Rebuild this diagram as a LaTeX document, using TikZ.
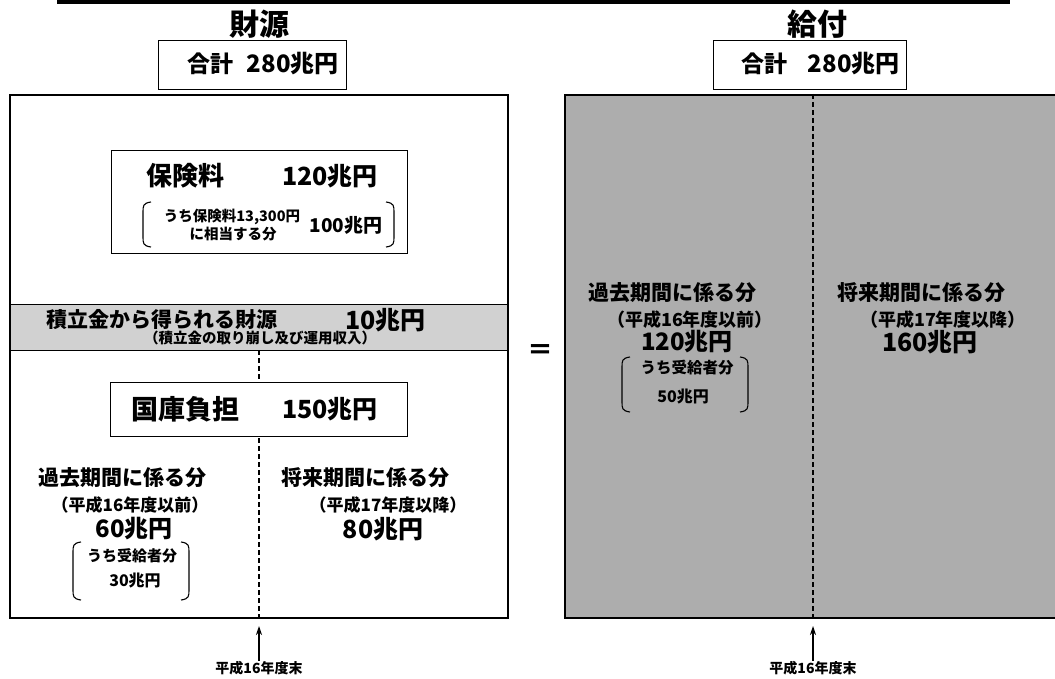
\documentclass[tikz,border=0pt]{standalone}
\usepackage{fontspec}
\setmainfont{Noto Sans CJK JP}
\usetikzlibrary{arrows.meta}
\definecolor{bandc}{gray}{0.82}
\definecolor{rfill}{gray}{0.68}
\tikzset{
  fs/.style={inner sep=0pt, font=\fontsize{#1}{#1}\selectfont\bfseries},
  fsb/.style={inner sep=0pt, font=\fontsize{#1}{#1}\selectfont\bfseries},
  bx/.style={draw, line width=1.3pt, fill=white, inner sep=0pt, anchor=north west},
  bigbox/.style={draw, line width=2.2pt, inner sep=0pt, anchor=north west},
  brk/.style={line width=1.1pt},
  dsh/.style={line width=1.3pt, dash pattern=on 5pt off 3pt},
  arr/.style={line width=1.3pt, -{Stealth[length=9pt,width=6pt]}}
}
\newcommand\brL[3]{\draw[brk] (#1+8,#2) .. controls (#1,#2+1) and (#1,#2+4) .. (#1,#2+10) -- (#1,#3-10) .. controls (#1,#3-4) and (#1,#3-1) .. (#1+8,#3);}
\newcommand\brR[3]{\draw[brk] (#1-8,#2) .. controls (#1,#2+1) and (#1,#2+4) .. (#1,#2+10) -- (#1,#3-10) .. controls (#1,#3-4) and (#1,#3-1) .. (#1-8,#3);}
\begin{document}
\begin{tikzpicture}[x=1pt,y=-1pt]
\useasboundingbox (0,0) rectangle (1055,679);
% top rule
\coordinate (rl) at (57,2); \coordinate (rr) at (1010,2);
\draw[line width=4pt] (rl) -- (rr);
% titles
\node[fsb=30] (t1) at (259,24) {財源};
\node[fsb=30] (t2) at (817,24) {給付};
% sum boxes
\node[bx, minimum width=188, minimum height=49] (s1) at (158,40) {};
\node[fsb=23, anchor=west] (s1a) at (187,64) {合計};
\node[fsb=24, anchor=east] (s1b) at (339,64) {280兆円};
\node[bx, minimum width=193, minimum height=49] (s2) at (713,40) {};
\node[fsb=23, anchor=west] (s2a) at (741,64) {合計};
\node[fsb=24, anchor=east] (s2b) at (900,64) {280兆円};
% left box background
\fill[white] (9,94) rectangle (507,617);
% band
\node[draw, line width=1.2pt, fill=bandc, inner sep=0pt, anchor=north west, minimum width=498, minimum height=46] (band) at (9,304) {};
\node[fsb=21, anchor=west] (band1) at (46,320) {積立金から得られる財源};
\node[fs=25, anchor=west] (band2) at (345,320) {10兆円};
\node[fsb=14.5] (band3) at (260,338) {（積立金の取り崩し及び運用収入）};
% dashed split left
\coordinate (dl1) at (259,350); \coordinate (dl2) at (259,617);
\draw[dsh] (dl1) -- (dl2);
% hoken box
\node[bx, minimum width=296, minimum height=103] (hk) at (111,150) {};
\node[fsb=26, anchor=west] (hk1) at (146,176) {保険料};
\node[fs=25, anchor=east] (hk2) at (378,176) {120兆円};
\brL{143}{202}{247}
\brR{394}{202}{247}
\node[fs=14.5] (hk3) at (232,217) {うち保険料13,300円};
\node[fs=14.5] (hk4) at (233,234) {に相当する分};
\node[fs=19] (hk5) at (346,225) {100兆円};
% kokko box
\node[bx, minimum width=297, minimum height=54] (kk) at (110,382) {};
\node[fsb=27, anchor=west] (kk1) at (131,409) {国庫負担};
\node[fs=25, anchor=east] (kk2) at (378,409) {150兆円};
% lower left texts
\node[fs=21] (l1) at (122,478) {過去期間に係る分};
\node[fs=17] (l2) at (130,505) {（平成16年度以前）};
\node[fs=24] (l3) at (134,529) {60兆円};
\brL{73}{542}{600}
\brR{189}{542}{600}
\node[fs=15] (l4) at (132,556) {うち受給者分};
\node[fs=16] (l5) at (135,581) {30兆円};
\node[fs=21] (r1) at (365,478) {将来期間に係る分};
\node[fs=17] (r2) at (388,505) {（平成17年度以降）};
\node[fs=25] (r3) at (383,529) {80兆円};
% left box border
\node[bigbox, minimum width=498, minimum height=523] (lbox) at (9,94) {};
% equal sign
\node[fs=26] (eq) at (540,352) {＝};
% right box
\node[bigbox, fill=rfill, minimum width=500, minimum height=523] (rbox) at (564,94) {};
\coordinate (dr1) at (813,94); \coordinate (dr2) at (813,617);
\draw[dsh] (dr1) -- (dr2);
\node[fs=21] (q1) at (672,293) {過去期間に係る分};
\node[fs=18] (q2) at (690,320) {（平成16年度以前）};
\node[fs=24] (q3) at (687,342) {120兆円};
\brL{622}{357}{412}
\brR{748}{357}{412}
\node[fs=15.5] (q4) at (687,368) {うち受給者分};
\node[fs=16] (q5) at (683,397) {50兆円};
\node[fs=21] (p1) at (921,293) {将来期間に係る分};
\node[fs=18] (p2) at (943,320) {（平成17年度以降）};
\node[fs=25] (p3) at (930,342) {160兆円};
% arrows
\node[fsb=14] (e1) at (259,668) {平成16年度末};
\node[fsb=14] (e2) at (813,668) {平成16年度末};
\coordinate (a1) at (259,626); \coordinate (a2) at (813,626);
\draw[arr] (e1.north) -- (a1);
\draw[arr] (e2.north) -- (a2);
\end{tikzpicture}
\end{document}
